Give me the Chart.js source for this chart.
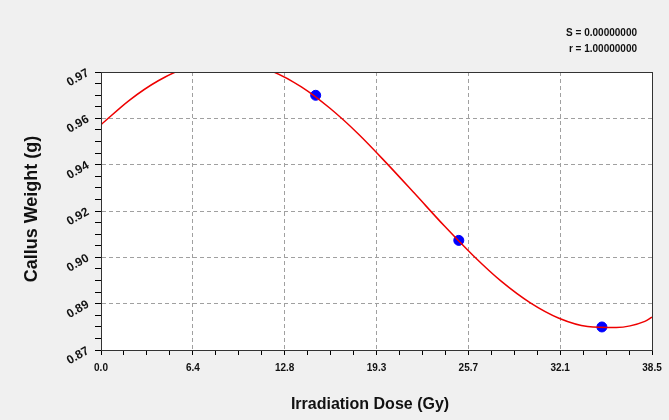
<!DOCTYPE html>
<html>
<head>
<meta charset="utf-8">
<script src="https://cdn.jsdelivr.net/npm/chart.js@4/dist/chart.umd.min.js"></script>
<style>
  html, body { margin: 0; padding: 0; background: #f0f0f0; }
  #wrap { width: 669px; height: 420px; }
</style>
</head>
<body>
<div id="wrap"><canvas id="myChart" width="669" height="420"></canvas></div>
<script>
// 축 눈금 라벨
var xTickLabels = ['0.0', '6.4', '12.8', '19.3', '25.7', '32.1', '38.5'];
var yTickLabels = ['0.87', '0.89', '0.90', '0.92', '0.94', '0.96', '0.97'];
var xRange = [0, 38.5];
var yRange = [0.8725, 0.9775];

// 측정 데이터 (파란 점)
var doses = [15, 25, 35];
var weights = [0.9687, 0.9139, 0.8812];

// 적합 곡선 (빨간 선) - 그림에서 읽은 값
var curveDoses = [0, 2, 4, 6, 8, 10, 12, 14, 16, 18, 20, 22, 24, 26, 28, 30, 32, 34, 36, 38, 38.5];
var curveWeights = [0.9576, 0.9669, 0.9742, 0.9792, 0.9815, 0.9810, 0.9777, 0.9719, 0.9638, 0.9540,
                    0.9428, 0.9311, 0.9193, 0.9082, 0.8983, 0.8903, 0.8845, 0.8814, 0.8810, 0.8833, 0.8849];

var statLines = ['S = 0.00000000', 'r = 1.00000000'];
var xTitle = 'Irradiation Dose (Gy)';
var yTitle = 'Callus Weight (g)';

var MINOR = 4; // 큰 눈금 사이 4칸

function toPoints(xs, ys) {
    return xs.map(function(x, i) { return { x: x, y: ys[i] }; });
}

// 큰 눈금 + 작은 눈금 만들기
function buildTicks(scale) {
    var n = 6 * MINOR;
    var lo = scale.min, hi = scale.max;
    var ticks = [];
    for (var i = 0; i <= n; i++) {
        ticks.push({ value: lo + (hi - lo) * i / n });
    }
    scale.ticks = ticks;
}

function gridColor(c) {
    var i = c.index;
    if (i % MINOR === 0 && i > 0 && i < 6 * MINOR) return '#a0a0a0';
    return 'rgba(0,0,0,0)';
}

var xTickFont = { family: "'Liberation Sans', Arial, sans-serif", size: 10, weight: 'bold' };
var yTickFont = { family: "'Liberation Sans', Arial, sans-serif", size: 12, weight: 'bold' };

// 배경, 테두리, 제목 그리기
var decorPlugin = {
    id: 'decor',
    beforeDraw: function(chart) {
        var a = chart.chartArea, ctx = chart.ctx;
        ctx.save();
        ctx.fillStyle = '#ffffff';
        ctx.fillRect(a.left, a.top, a.right - a.left, a.bottom - a.top);
        ctx.restore();
    },
    afterDraw: function(chart) {
        var a = chart.chartArea, ctx = chart.ctx;
        ctx.save();
        ctx.setLineDash([]);
        ctx.strokeStyle = '#333333';
        ctx.lineWidth = 1;
        ctx.strokeRect(a.left + 0.5, a.top + 0.5, a.right - a.left, a.bottom - a.top);

        ctx.fillStyle = '#111111';
        ctx.textAlign = 'center';
        ctx.textBaseline = 'middle';
        ctx.font = "bold 16px 'Liberation Sans', Arial, sans-serif";
        ctx.fillText(xTitle, 370, 405);

        ctx.font = "bold 18px 'Liberation Sans', Arial, sans-serif";
        ctx.translate(32, 209);
        ctx.rotate(-Math.PI / 2);
        ctx.fillText(yTitle, 0, 0);
        ctx.restore();

        ctx.save();
        ctx.fillStyle = '#111111';
        ctx.font = "bold 10px 'Liberation Sans', Arial, sans-serif";
        ctx.textAlign = 'right';
        ctx.textBaseline = 'middle';
        ctx.fillText(statLines[0], 637, 33);
        ctx.fillText(statLines[1], 637, 49);
        ctx.restore();
    }
};

var ctx = document.getElementById('myChart').getContext('2d');
var myChart = new Chart(ctx, {
    type: 'scatter',
    data: {
        datasets: [{
            type: 'line',
            data: toPoints(curveDoses, curveWeights),
            borderColor: '#ee0000',
            borderWidth: 1.5,
            pointRadius: 0,
            cubicInterpolationMode: 'monotone',
            fill: false,
            order: 0
        }, {
            data: toPoints(doses, weights),
            backgroundColor: '#0000ff',
            borderColor: '#0000ff',
            pointRadius: 5,
            order: 1
        }]
    },
    options: {
        responsive: false,
        animation: false,
        devicePixelRatio: 1,
        layout: { padding: { top: 72, right: 17, left: 0, bottom: 0 } },
        plugins: { legend: { display: false }, tooltip: { enabled: false } },
        scales: {
            x: {
                type: 'linear',
                min: xRange[0],
                max: xRange[1],
                afterBuildTicks: buildTicks,
                afterFit: function(s) { s.height = 70; },
                grid: {
                    color: gridColor,
                    tickColor: '#000000',
                    tickLength: 5,
                    tickBorderDash: []
                },
                border: { display: true, color: '#000000', dash: [4, 3] },
                ticks: {
                    autoSkip: false,
                    maxRotation: 0,
                    padding: 7,
                    color: '#111111',
                    font: xTickFont,
                    callback: function(v, i) { return i % MINOR === 0 ? xTickLabels[i / MINOR] : ''; }
                }
            },
            y: {
                type: 'linear',
                min: yRange[0],
                max: yRange[1],
                afterBuildTicks: buildTicks,
                afterFit: function(s) { s.width = 101; },
                grid: {
                    color: gridColor,
                    tickColor: '#000000',
                    tickLength: 6,
                    tickBorderDash: []
                },
                border: { display: true, color: '#000000', dash: [4, 3] },
                ticks: {
                    autoSkip: false,
                    minRotation: 30,
                    maxRotation: 30,
                    padding: 7,
                    color: '#111111',
                    font: yTickFont,
                    callback: function(v, i) { return i % MINOR === 0 ? yTickLabels[i / MINOR] : ''; }
                }
            }
        }
    },
    plugins: [decorPlugin]
});
</script>
</body>
</html>
